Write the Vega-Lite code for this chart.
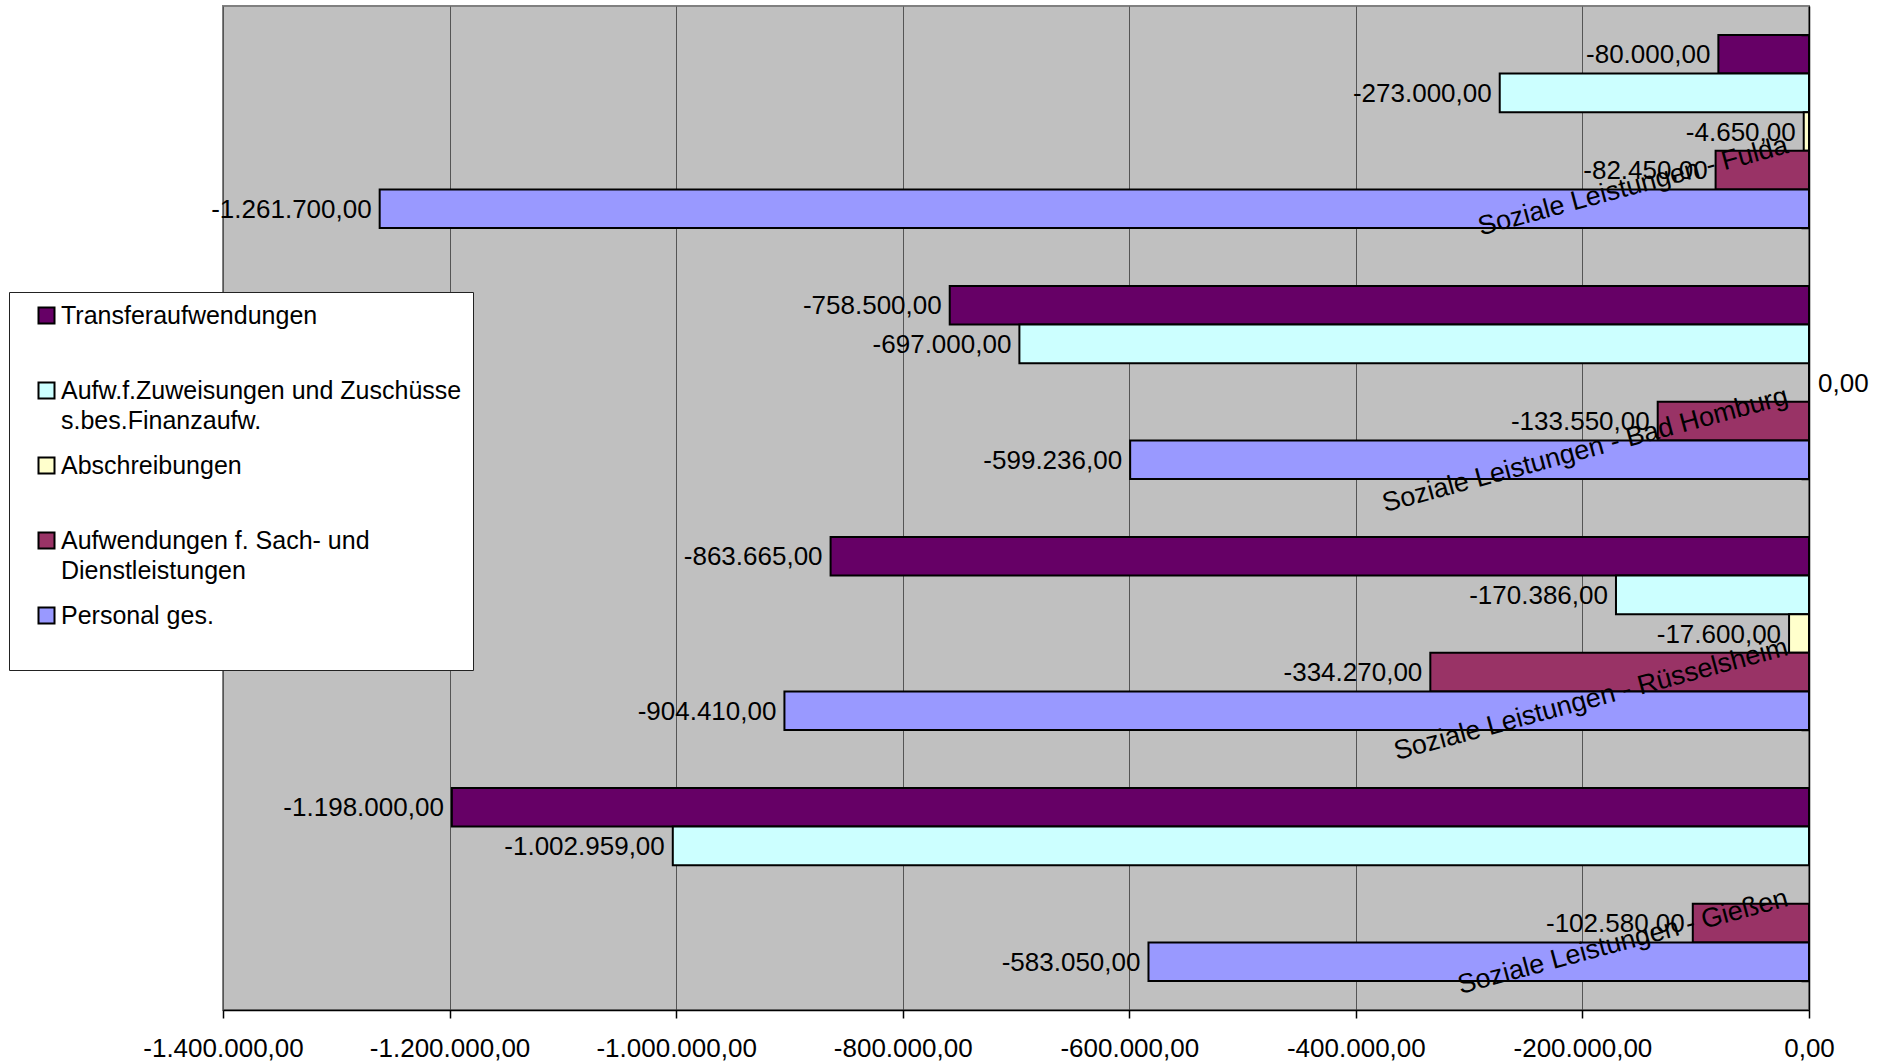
{
  "$schema": "https://vega.github.io/schema/vega-lite/v6.json",
  "width": 1586,
  "height": 1004,
  "autosize": "none",
  "padding": {"left": 223, "top": 6, "right": 76, "bottom": 54},
  "background": "white",
  "data": {
    "values": [
      {"Bereich": "Soziale Leistungen - Fulda", "Kostenart": "Transferaufwendungen", "Betrag": -80000},
      {"Bereich": "Soziale Leistungen - Fulda", "Kostenart": "Aufw.f.Zuweisungen und Zuschüsse s.bes.Finanzaufw.", "Betrag": -273000},
      {"Bereich": "Soziale Leistungen - Fulda", "Kostenart": "Abschreibungen", "Betrag": -4650},
      {"Bereich": "Soziale Leistungen - Fulda", "Kostenart": "Aufwendungen f. Sach- und Dienstleistungen", "Betrag": -82450},
      {"Bereich": "Soziale Leistungen - Fulda", "Kostenart": "Personal ges.", "Betrag": -1261700},
      {"Bereich": "Soziale Leistungen - Bad Homburg", "Kostenart": "Transferaufwendungen", "Betrag": -758500},
      {"Bereich": "Soziale Leistungen - Bad Homburg", "Kostenart": "Aufw.f.Zuweisungen und Zuschüsse s.bes.Finanzaufw.", "Betrag": -697000},
      {"Bereich": "Soziale Leistungen - Bad Homburg", "Kostenart": "Abschreibungen", "Betrag": 0},
      {"Bereich": "Soziale Leistungen - Bad Homburg", "Kostenart": "Aufwendungen f. Sach- und Dienstleistungen", "Betrag": -133550},
      {"Bereich": "Soziale Leistungen - Bad Homburg", "Kostenart": "Personal ges.", "Betrag": -599236},
      {"Bereich": "Soziale Leistungen - Rüsselsheim", "Kostenart": "Transferaufwendungen", "Betrag": -863665},
      {"Bereich": "Soziale Leistungen - Rüsselsheim", "Kostenart": "Aufw.f.Zuweisungen und Zuschüsse s.bes.Finanzaufw.", "Betrag": -170386},
      {"Bereich": "Soziale Leistungen - Rüsselsheim", "Kostenart": "Abschreibungen", "Betrag": -17600},
      {"Bereich": "Soziale Leistungen - Rüsselsheim", "Kostenart": "Aufwendungen f. Sach- und Dienstleistungen", "Betrag": -334270},
      {"Bereich": "Soziale Leistungen - Rüsselsheim", "Kostenart": "Personal ges.", "Betrag": -904410},
      {"Bereich": "Soziale Leistungen - Gießen", "Kostenart": "Transferaufwendungen", "Betrag": -1198000},
      {"Bereich": "Soziale Leistungen - Gießen", "Kostenart": "Aufw.f.Zuweisungen und Zuschüsse s.bes.Finanzaufw.", "Betrag": -1002959},
      {"Bereich": "Soziale Leistungen - Gießen", "Kostenart": "Aufwendungen f. Sach- und Dienstleistungen", "Betrag": -102580},
      {"Bereich": "Soziale Leistungen - Gießen", "Kostenart": "Personal ges.", "Betrag": -583050}
    ]
  },
  "encoding": {
    "y": {
      "field": "Bereich",
      "type": "nominal",
      "sort": ["Soziale Leistungen - Fulda", "Soziale Leistungen - Bad Homburg", "Soziale Leistungen - Rüsselsheim", "Soziale Leistungen - Gießen"],
      "scale": {"paddingInner": 0.231, "paddingOuter": 0.1155},
      "axis": {
        "orient": "left",
        "offset": -1586,
        "zindex": 2,
        "title": null,
        "labelAngle": -15,
        "labelAlign": "right",
        "labelBaseline": "middle",
        "labelOffset": 13,
        "labelPadding": 14,
        "labelFont": "Liberation Sans",
        "labelFontSize": 27,
        "labelColor": "black",
        "labelLimit": 0,
        "tickBand": "extent",
        "tickSize": 8,
        "tickColor": "black",
        "tickWidth": 1.5,
        "domainColor": "black",
        "domainWidth": 1.5,
        "grid": false
      }
    },
    "yOffset": {
      "field": "Kostenart",
      "type": "nominal",
      "scale": {
        "domain": ["Transferaufwendungen", "Aufw.f.Zuweisungen und Zuschüsse s.bes.Finanzaufw.", "Abschreibungen", "Aufwendungen f. Sach- und Dienstleistungen", "Personal ges."],
        "paddingInner": 0,
        "paddingOuter": 0
      }
    },
    "x": {
      "field": "Betrag",
      "type": "quantitative",
      "scale": {"domain": [-1400000, 0], "nice": false, "zero": true},
      "axis": {
        "title": null,
        "zindex": 0,
        "values": [-1400000, -1200000, -1000000, -800000, -600000, -400000, -200000, 0],
        "format": ",.2f",
        "labelFlush": false,
        "labelOverlap": false,
        "labelFont": "Liberation Sans",
        "labelFontSize": 26,
        "labelColor": "black",
        "labelPadding": 17,
        "tickSize": 8,
        "tickColor": "black",
        "tickWidth": 1.5,
        "domainColor": "black",
        "domainWidth": 1.5,
        "grid": true,
        "gridColor": "#555555",
        "gridWidth": 1
      }
    }
  },
  "layer": [
    {
      "mark": {"type": "bar", "stroke": "black", "strokeWidth": 2, "opacity": 1},
      "encoding": {
        "color": {
          "field": "Kostenart",
          "type": "nominal",
          "scale": {
            "domain": ["Transferaufwendungen", "Aufw.f.Zuweisungen und Zuschüsse s.bes.Finanzaufw.", "Abschreibungen", "Aufwendungen f. Sach- und Dienstleistungen", "Personal ges."],
            "range": ["#660066", "#CCFFFF", "#FFFFCC", "#993366", "#9999FF"]
          },
          "legend": {
            "orient": "none",
            "legendX": -214,
            "legendY": 286,
            "zindex": 3,
            "title": null,
            "fillColor": "white",
            "strokeColor": "#222222",
            "padding": 11,
            "symbolType": "square",
            "symbolSize": 256,
            "symbolStrokeColor": "black",
            "symbolStrokeWidth": 2,
            "symbolOpacity": 1,
            "symbolOffset": 14,
            "labelOffset": 2,
            "labelFont": "Liberation Sans",
            "labelFontSize": 25,
            "labelColor": "black",
            "labelLimit": 0,
            "rowPadding": 19,
            "gridAlign": "all",
            "labelExpr": "datum.label == 'Aufw.f.Zuweisungen und Zuschüsse s.bes.Finanzaufw.' ? ['Aufw.f.Zuweisungen und Zuschüsse', 's.bes.Finanzaufw.'] : datum.label == 'Aufwendungen f. Sach- und Dienstleistungen' ? ['Aufwendungen f. Sach- und', 'Dienstleistungen'] : datum.label == 'Personal ges.' ? ['Personal ges.', ''] : datum.label"
          }
        }
      }
    },
    {
      "transform": [{"filter": "datum.Betrag < 0"}],
      "mark": {"type": "text", "align": "right", "baseline": "middle", "dx": -8, "dy": 1, "font": "Liberation Sans", "fontSize": 26, "color": "black"},
      "encoding": {
        "text": {"field": "Betrag", "type": "quantitative", "format": ",.2f"}
      }
    },
    {
      "transform": [{"filter": "datum.Betrag == 0"}],
      "mark": {"type": "text", "align": "left", "baseline": "middle", "dx": 9, "dy": 1, "font": "Liberation Sans", "fontSize": 26, "color": "black"},
      "encoding": {
        "text": {"field": "Betrag", "type": "quantitative", "format": ",.2f"}
      }
    }
  ],
  "config": {
    "locale": {
      "number": {"decimal": ",", "thousands": ".", "grouping": [3], "currency": ["", " €"], "minus": "-"}
    },
    "style": {"guide-label": {"lineHeight": 30}},
    "view": {"fill": "#C0C0C0", "stroke": "#808080", "strokeWidth": 2}
  }
}
